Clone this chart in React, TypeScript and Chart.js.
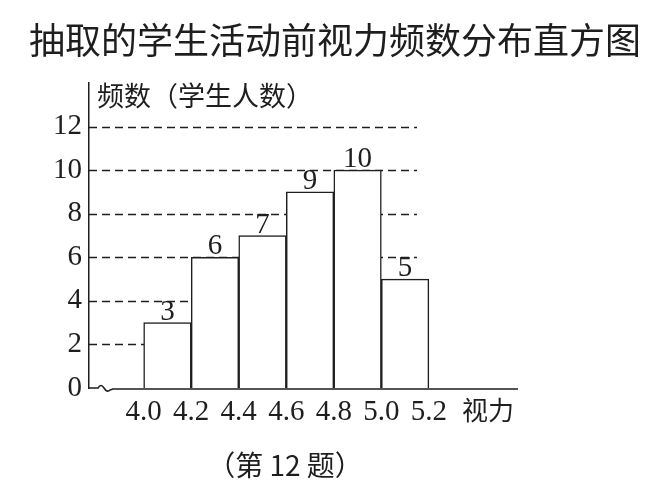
import { useEffect, useRef } from "react"
import { Chart, registerables } from "chart.js"

Chart.register(...registerables)

// bins (lower edge of each class) and counts
const binStarts = [4.0, 4.2, 4.4, 4.6, 4.8, 5.0]
const binWidth = 0.2
const counts = [3, 6, 7, 9, 10, 5]
const xTickValues = [4.0, 4.2, 4.4, 4.6, 4.8, 5.0, 5.2]
const yTickValues = [0, 2, 4, 6, 8, 10, 12]

const titleText = "抽取的学生活动前视力频数分布直方图"
const yTitleText = "频数（学生人数）"
const xTitleText = "视力"
const captionText = "（第 12 题）"

const INK = "#1e1e1e"
const SERIF = "'Liberation Serif', 'Noto Sans CJK SC', serif"
const CJK = "'Noto Sans CJK SC', 'Liberation Serif', sans-serif"

const decorPlugin = {
  id: "decor",
  beforeDatasetsDraw(chart: any) {
    const { ctx, chartArea, scales } = chart
    const x = scales.x
    const y = scales.y
    // dashed guide lines
    ctx.save()
    ctx.strokeStyle = INK
    ctx.lineWidth = 1.5
    ctx.setLineDash([8, 5])
    const endX = x.getPixelForValue(5.15)
    yTickValues.forEach((v) => {
      if (v === 0) return
      const py = Math.round(y.getPixelForValue(v)) + 0.5
      ctx.beginPath()
      ctx.moveTo(chartArea.left, py)
      ctx.lineTo(endX, py)
      ctx.stroke()
    })
    ctx.restore()
  },
  afterDatasetsDraw(chart: any) {
    const { ctx, chartArea } = chart
    // bar value labels
    const meta = chart.getDatasetMeta(0)
    ctx.save()
    ctx.fillStyle = INK
    ctx.font = `29px ${SERIF}`
    ctx.textAlign = "center"
    ctx.textBaseline = "alphabetic"
    meta.data.forEach((bar: any, i: number) => {
      ctx.fillText(String(counts[i]), bar.x, bar.y - 3)
    })
    ctx.restore()

    // x axis with break mark
    const by = chartArea.bottom
    const l = chartArea.left
    ctx.save()
    ctx.strokeStyle = INK
    ctx.lineWidth = 1.5
    ctx.beginPath()
    ctx.moveTo(l, by)
    ctx.lineTo(l + 9, by)
    ctx.quadraticCurveTo(l + 12, by - 5, l + 15, by)
    ctx.quadraticCurveTo(l + 18, by + 5, l + 21, by + 2)
    ctx.lineTo(l + 24, by + 1)
    ctx.lineTo(chartArea.right, by + 1)
    ctx.stroke()
    ctx.restore()
  },
  afterDraw(chart: any) {
    const { ctx, chartArea } = chart
    ctx.save()
    ctx.fillStyle = INK
    ctx.textBaseline = "middle"

    ctx.font = `36px ${CJK}`
    ctx.textAlign = "center"
    ctx.fillText(titleText, 335, 40)

    ctx.font = `27px ${CJK}`
    ctx.textAlign = "left"
    ctx.fillText(yTitleText, chartArea.left + 8, 96)

    ctx.font = `26px ${CJK}`
    ctx.fillText(xTitleText, chartArea.right - 56, 410)

    ctx.font = `28px ${CJK}`
    ctx.textAlign = "center"
    ctx.fillText(captionText, 285, 465)
    ctx.restore()
  },
}

export default function App() {
  const chartRef = useRef<HTMLCanvasElement>(null)
  const chartInstance = useRef<Chart | null>(null)

  useEffect(() => {
    if (!chartRef.current) return
    if (chartInstance.current) chartInstance.current.destroy()
    const ctx = chartRef.current.getContext("2d")
    if (!ctx) return

    const points = binStarts.map((s, i) => ({ x: s + binWidth / 2, y: counts[i] }))

    chartInstance.current = new Chart(ctx, {
      type: "bar",
      data: {
        datasets: [
          {
            data: points as any,
            backgroundColor: "#ffffff",
            borderColor: INK,
            borderWidth: 1.5,
            barPercentage: 1,
            categoryPercentage: 1,
          },
        ],
      },
      options: {
        responsive: false,
        animation: false,
        layout: { padding: { left: 0, top: 83, right: 146, bottom: 0 } },
        plugins: {
          legend: { display: false },
          tooltip: { enabled: false },
          title: { display: false },
        },
        scales: {
          x: {
            type: "linear",
            offset: false,
            min: 3.77,
            max: 5.575,
            grid: { display: false, drawTicks: false, offset: false },
            border: { display: false },
            afterBuildTicks: (scale: any) => {
              scale.ticks = xTickValues.map((v) => ({ value: v }))
            },
            afterFit: (scale: any) => {
              scale.height = 109
            },
            ticks: {
              autoSkip: false,
              maxRotation: 0,
              padding: 7,
              color: INK,
              font: { family: SERIF, size: 29 },
              callback: (v: any) => Number(v).toFixed(1),
            },
          },
          y: {
            min: 0,
            max: 14,
            grid: { display: false, drawTicks: false },
            border: { display: true, color: INK, width: 1.5 },
            afterBuildTicks: (scale: any) => {
              scale.ticks = yTickValues.map((v) => ({ value: v }))
            },
            afterFit: (scale: any) => {
              scale.width = 89
            },
            ticks: {
              padding: 7,
              color: INK,
              font: { family: SERIF, size: 29 },
            },
          },
        },
      },
      plugins: [decorPlugin],
    })

    return () => {
      if (chartInstance.current) {
        chartInstance.current.destroy()
        chartInstance.current = null
      }
    }
  }, [])

  return (
    <div style={{ position: "fixed", left: 0, top: 0, width: 664, height: 497, background: "#fff" }}>
      <canvas ref={chartRef} width={664} height={497} />
    </div>
  )
}
